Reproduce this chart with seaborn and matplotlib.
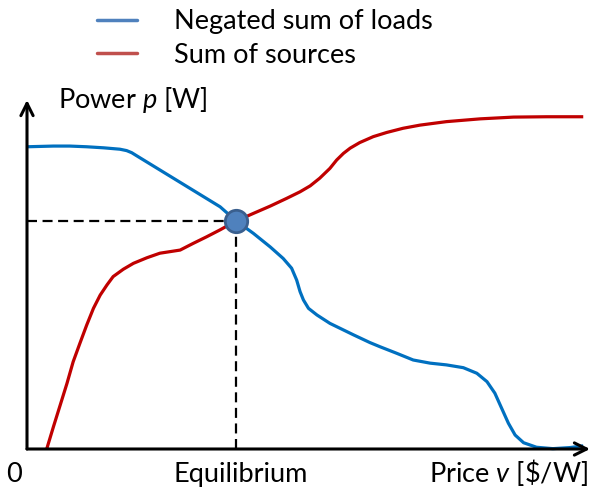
import matplotlib
matplotlib.use("Agg")
import matplotlib.pyplot as plt
from matplotlib.lines import Line2D
import seaborn as sns
import pandas as pd

# ---- data (schematic units: price 0..100, power 0..100) ----
load_price = [0, 4.7, 7.6, 10.6, 13.6, 16.5, 17.7, 18.6, 19.5,
              34.3, 37.1, 40.2, 43.2, 45.5, 47.0, 47.9, 48.5, 49.1, 50.0,
              51.5, 53.8, 58.0, 60.9, 62.7, 65.7, 68.6, 71.6, 74.5, 77.5,
              79.9, 81.7, 83.1, 84.3, 85.5, 86.7, 88.2, 90.5, 93.4, 96.4, 98.8]
load_power = [86.6, 86.8, 86.8, 86.6, 86.3, 85.9, 85.5, 84.9, 84.0,
              69.4, 65.4, 61.8, 57.9, 54.6, 51.8, 48.4, 45.1, 42.7, 40.3,
              38.4, 36.0, 32.7, 30.5, 29.3, 27.4, 25.5, 24.6, 24.1, 23.3,
              21.7, 19.3, 16.0, 11.7, 7.4, 4.0, 1.8, 0.5, 0.1, 0.4, 0.9]
src_price = [3.5, 4.7, 5.9, 7.1, 8.2, 9.4, 10.6, 11.8, 13.0, 14.2,
             15.3, 17.1, 18.9, 21.3, 23.6, 26.0, 27.2, 29.5, 31.9, 34.3,
             37.1, 40.2, 43.2, 46.1, 48.5, 50.3, 52.0, 53.8, 55.0, 56.2,
             57.4, 59.1, 61.5, 63.9, 66.8, 69.8, 74.5, 80.5, 86.4, 92.3, 98.8]
src_power = [0, 6.4, 12.6, 18.8, 25.0, 30.3, 35.5, 40.3, 44.1, 47.0,
             49.4, 51.5, 53.2, 54.8, 56.1, 56.7, 57.0, 58.9, 60.8, 62.8,
             65.3, 67.5, 69.6, 71.8, 73.7, 75.4, 77.6, 80.4, 82.8, 84.7,
             86.2, 87.8, 89.5, 90.7, 91.9, 92.8, 93.8, 94.6, 95.1, 95.2, 95.2]
eq_price = [37.1]
eq_power = [65.3]
series_labels = ["Negated sum of loads", "Sum of sources"]
x_label = "Price $\\mathit{v}$ [\\$/W]"
y_label = "Power $\\mathit{p}$ [W]"
origin_label = "0"
eq_label = "Equilibrium"

sns.set_theme(style="white")
plt.rcParams["font.family"] = ["Lato", "DejaVu Sans"]
plt.rcParams["mathtext.fontset"] = "custom"
plt.rcParams["mathtext.rm"] = "Lato"
plt.rcParams["mathtext.it"] = "Lato:italic"
plt.rcParams["text.color"] = "black"

W, H = 594, 490
fig = plt.figure(figsize=(W / 100, H / 100), dpi=100)
fig.patch.set_facecolor("white")
ax = fig.add_axes([27 / W, (H - 449) / H, 563 / W, 349 / H])
ax.set_xlim(0, 100)
ax.set_ylim(0, 100)
ax.axis("off")

loads = pd.DataFrame({"price": load_price, "power": load_power})
srcs = pd.DataFrame({"price": src_price, "power": src_power})

# dashed guides
ax.plot([0, eq_price[0]], [eq_power[0], eq_power[0]], color="black", lw=1.6,
        linestyle=(0, (4.5, 2.5)), zorder=2, clip_on=False)
ax.plot([eq_price[0], eq_price[0]], [0, eq_power[0]], color="black", lw=1.6,
        linestyle=(0, (4.5, 2.5)), zorder=2, clip_on=False)

sns.lineplot(data=srcs, x="price", y="power", color="#C00000", lw=2.3, ax=ax,
             estimator=None, sort=False, zorder=3, clip_on=False,
             solid_joinstyle="round", solid_capstyle="butt")
sns.lineplot(data=loads, x="price", y="power", color="#0070C0", lw=2.3, ax=ax,
             estimator=None, sort=False, zorder=3, clip_on=False,
             solid_joinstyle="round", solid_capstyle="butt")

ax.scatter(eq_price, eq_power, s=260, color="#4F81BD", edgecolor="#3A5F8E",
           linewidth=2, zorder=5, clip_on=False)

# axes arrows
arrow = dict(arrowstyle="->", lw=2.2, color="black", mutation_scale=22,
             shrinkA=0, shrinkB=0)
ax.annotate("", xy=(100, 0), xytext=(0, 0), arrowprops=arrow, annotation_clip=False)
ax.annotate("", xy=(0, 100), xytext=(0, 0), arrowprops=arrow, annotation_clip=False)
ax.set_xlabel("")
ax.set_ylabel("")

fs = 19.5
fig.text(58 / W, 1 - 108 / H, y_label, fontsize=fs, ha="left", va="baseline", color="black")
fig.text(14 / W, 1 - 482 / H, origin_label, fontsize=fs, ha="center", va="baseline", color="black")
fig.text(241 / W, 1 - 482 / H, eq_label, fontsize=fs, ha="center", va="baseline", color="black")
fig.text(588 / W, 1 - 482 / H, x_label, fontsize=fs, ha="right", va="baseline", color="black")

handles = [Line2D([], [], color="#4F81BD", lw=2.5),
           Line2D([], [], color="#C0504D", lw=2.5)]
leg = fig.legend(handles, series_labels, loc="upper left",
                 bbox_to_anchor=(92 / W, 1 - 4 / H),
                 frameon=False, fontsize=fs, handlelength=1.45, handletextpad=1.37,
                 labelspacing=0.3, borderaxespad=0.0, borderpad=0.2)
for t in leg.get_texts():
    t.set_color("black")

fig.savefig("out.png", dpi=100, facecolor="white")
